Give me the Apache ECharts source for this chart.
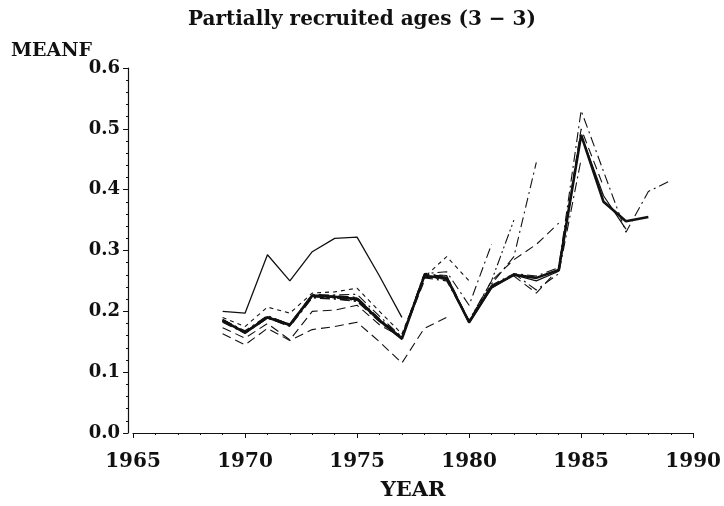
<!DOCTYPE html>
<html>
<head>
<meta charset="utf-8">
<script src="https://cdn.jsdelivr.net/npm/echarts@6/dist/echarts.min.js"></script>
<style>
  html, body { margin: 0; padding: 0; background: #fff; }
  #main { width: 724px; height: 506px; }
</style>
</head>
<body>
<div id="main"></div>
<script>
// years of the retrospective runs, every series starts in 1969
const startYear = 1969;
const xTicks = [1965, 1970, 1975, 1980, 1985, 1990];

// one array per assessment (terminal year)
const run1977 = [0.200, 0.197, 0.293, 0.250, 0.298, 0.320, 0.322, 0.258, 0.190];
const run1978 = [0.173, 0.156, 0.180, 0.153, 0.200, 0.202, 0.210, 0.178, 0.157, 0.250];
const run1979 = [0.163, 0.145, 0.172, 0.152, 0.170, 0.175, 0.182, 0.150, 0.115, 0.172, 0.190];
const run1980 = [0.190, 0.175, 0.207, 0.197, 0.230, 0.232, 0.238, 0.200, 0.163, 0.256, 0.290, 0.250];
const run1981 = [0.186, 0.168, 0.193, 0.178, 0.226, 0.227, 0.228, 0.192, 0.158, 0.262, 0.265, 0.210, 0.310];
const run1982 = [0.184, 0.165, 0.190, 0.176, 0.224, 0.222, 0.218, 0.186, 0.156, 0.258, 0.252, 0.185, 0.250, 0.350];
const run1983 = [0.182, 0.164, 0.189, 0.175, 0.222, 0.220, 0.216, 0.183, 0.154, 0.255, 0.250, 0.183, 0.245, 0.290, 0.445];
const run1984 = [0.185, 0.166, 0.191, 0.177, 0.225, 0.225, 0.222, 0.187, 0.157, 0.260, 0.258, 0.184, 0.250, 0.285, 0.310, 0.345];
const run1985 = [0.183, 0.164, 0.189, 0.176, 0.223, 0.221, 0.217, 0.184, 0.155, 0.256, 0.253, 0.181, 0.240, 0.262, 0.235, 0.262, 0.450];
const run1986 = [0.184, 0.165, 0.190, 0.177, 0.224, 0.223, 0.219, 0.185, 0.156, 0.257, 0.254, 0.182, 0.242, 0.258, 0.230, 0.270, 0.500, 0.405];
const run1987 = [0.185, 0.166, 0.191, 0.178, 0.226, 0.224, 0.221, 0.186, 0.156, 0.258, 0.256, 0.181, 0.238, 0.260, 0.250, 0.266, 0.490, 0.390, 0.335];
const run1988 = [0.185, 0.165, 0.190, 0.178, 0.226, 0.224, 0.220, 0.185, 0.155, 0.258, 0.255, 0.182, 0.240, 0.260, 0.255, 0.268, 0.490, 0.380, 0.348, 0.355];
const run1989 = [0.187, 0.167, 0.192, 0.179, 0.228, 0.226, 0.223, 0.188, 0.158, 0.261, 0.259, 0.183, 0.243, 0.262, 0.258, 0.272, 0.530, 0.430, 0.330, 0.397, 0.415];

const dashDot = [10, 4, 2, 4];
const dashDotDot = [10, 3, 2, 3, 2, 3];
const longDash = [9, 5];
const shortDash = [4, 4];

function toPoints(vals) {
  return vals.map((v, i) => [startYear + i, v]);
}

function mkSeries(vals, type, width) {
  return {
    type: 'line',
    data: toPoints(vals),
    symbol: 'none',
    silent: true,
    lineStyle: { color: '#111', width: width || 1.1, type: type }
  };
}

const series = [
  mkSeries(run1977, 'solid', 1.3),
  mkSeries(run1978, longDash),
  mkSeries(run1979, longDash),
  mkSeries(run1980, shortDash),
  mkSeries(run1981, dashDot),
  mkSeries(run1982, dashDotDot),
  mkSeries(run1983, dashDot),
  mkSeries(run1984, longDash),
  mkSeries(run1985, dashDot),
  mkSeries(run1986, longDash),
  mkSeries(run1987, 'solid', 1.2),
  mkSeries(run1988, 'solid', 2.6),
  mkSeries(run1989, dashDot)
];

const chart = echarts.init(document.getElementById('main'), null, { renderer: 'canvas' });

const font = '"DejaVu Serif", "Liberation Serif", serif';

chart.setOption({
  backgroundColor: '#fff',
  animation: false,
  title: [
    {
      text: 'Partially recruited ages (3 \u2212 3)',
      left: 'center',
      top: 5,
      textStyle: { fontFamily: font, fontWeight: 'bold', fontSize: 20, color: '#111' }
    },
    {
      text: 'MEANF',
      left: 6,
      top: 37,
      textStyle: { fontFamily: font, fontWeight: 'bold', fontSize: 19, color: '#111' }
    }
  ],
  grid: { left: 133, right: 27, top: 68, bottom: 67, containLabel: false },
  xAxis: {
    type: 'value',
    min: xTicks[0],
    max: xTicks[xTicks.length - 1],
    interval: 5,
    name: 'YEAR',
    nameLocation: 'middle',
    nameGap: 47,
    nameTextStyle: { fontFamily: font, fontWeight: 'bold', fontSize: 21, color: '#111' },
    axisLine: { lineStyle: { color: '#111', width: 1.2 } },
    axisTick: { length: 5, lineStyle: { color: '#111' } },
    minorTick: { show: true, splitNumber: 5, length: 2, lineStyle: { color: '#111' } },
    splitLine: { show: false },
    axisLabel: {
      fontFamily: font, fontWeight: 'bold', fontSize: 20, color: '#111', margin: 19,
      formatter: v => String(v)
    }
  },
  yAxis: {
    type: 'value',
    min: 0,
    max: 0.6,
    interval: 0.1,
    offset: 5,
    axisLine: { show: true, lineStyle: { color: '#111', width: 1.2 } },
    axisTick: { show: true, length: 5, lineStyle: { color: '#111' } },
    minorTick: { show: true, splitNumber: 5, length: 2, lineStyle: { color: '#111' } },
    splitLine: { show: false },
    axisLabel: {
      fontFamily: font, fontWeight: 'bold', fontSize: 18, color: '#111', margin: 8,
      formatter: v => v.toFixed(1)
    }
  },
  series: series
});
</script>
</body>
</html>
